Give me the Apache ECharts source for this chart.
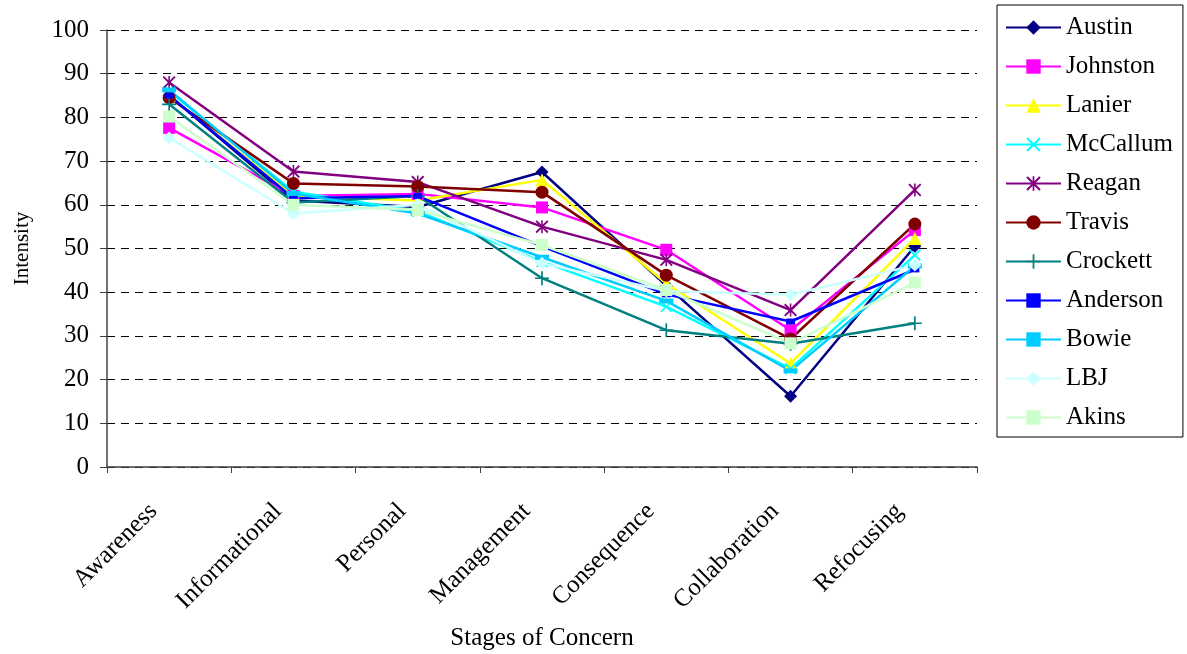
<!DOCTYPE html>
<html>
<head>
<meta charset="utf-8">
<script src="https://cdn.jsdelivr.net/npm/echarts@6/dist/echarts.min.js"></script>
<style>
  html, body { margin: 0; padding: 0; background: #fff; }
  #chart { width: 1187px; height: 654px; }
</style>
</head>
<body>
<div id="chart"></div>
<script>
// Stages of Concern: intensity by school
const stages = ['Awareness', 'Informational', 'Personal', 'Management', 'Consequence', 'Collaboration', 'Refocusing'];
const yTicks = [0, 10, 20, 30, 40, 50, 60, 70, 80, 90, 100];

const austin   = [85.0, 61.0, 59.5, 67.5, 41.5, 16.2, 50.5];
const johnston = [77.6, 62.0, 62.5, 59.4, 49.7, 31.3, 54.2];
const lanier   = [85.0, 62.0, 61.0, 65.7, 42.0, 23.7, 52.3];
const mccallum = [86.0, 63.0, 58.5, 47.0, 36.7, 22.5, 48.5];
const reagan   = [88.0, 67.6, 65.2, 55.0, 47.4, 35.9, 63.4];
const travis   = [84.5, 64.9, 64.2, 62.9, 43.9, 29.3, 55.6];
const crockett = [83.0, 60.5, 62.0, 43.2, 31.3, 28.2, 32.9];
const anderson = [85.0, 61.5, 62.0, 50.5, 39.5, 33.3, 45.2];
const bowie    = [86.3, 62.6, 58.0, 48.0, 38.0, 22.0, 46.0];
const lbj      = [75.3, 58.0, 60.0, 46.6, 40.3, 39.4, 46.2];
const akins    = [80.2, 60.0, 58.8, 50.8, 40.5, 28.3, 42.2];

// marker shapes
const SYM_X = 'path://M0,1L1,0L5,4L9,0L10,1L6,5L10,9L9,10L5,6L1,10L0,9L4,5Z';
const SYM_STAR = 'path://M0,1L1,0L5,4L9,0L10,1L6,5L10,9L9,10L5,6L1,10L0,9L4,5Z M4.4,0H5.6V10H4.4Z';
const SYM_PLUS = 'path://M4.4,0H5.6V4.4H10V5.6H5.6V10H4.4V5.6H0V4.4H4.4Z';
const SYM_SHORTDASH = 'path://M0,0H10V6.5H0Z';
const SYM_DASH = 'path://M0,0H14V5H0Z';

const seriesDefs = [
  { name: 'Austin',   data: austin,   color: '#000080', symbol: 'diamond',     size: 13 },
  { name: 'Johnston', data: johnston, color: '#FF00FF', symbol: 'rect',        size: 12 },
  { name: 'Lanier',   data: lanier,   color: '#FFFF00', symbol: 'triangle',    size: 13 },
  { name: 'McCallum', data: mccallum, color: '#00FFFF', symbol: SYM_X,         size: 12 },
  { name: 'Reagan',   data: reagan,   color: '#800080', symbol: SYM_STAR,      size: 13 },
  { name: 'Travis',   data: travis,   color: '#800000', symbol: 'circle',      size: 13 },
  { name: 'Crockett', data: crockett, color: '#008080', symbol: SYM_PLUS,      size: 14 },
  { name: 'Anderson', data: anderson, color: '#0000FF', symbol: SYM_SHORTDASH, size: 9 },
  { name: 'Bowie',    data: bowie,    color: '#00CCFF', symbol: SYM_DASH,      size: 14 },
  { name: 'LBJ',      data: lbj,      color: '#CCFFFF', symbol: 'diamond',     size: 13 },
  { name: 'Akins',    data: akins,    color: '#CCFFCC', symbol: 'rect',        size: 12 }
];

const FONT = 'Liberation Serif, Times New Roman, serif';

const chart = echarts.init(document.getElementById('chart'), null, { renderer: 'canvas' });

chart.setOption({
  backgroundColor: '#ffffff',
  animation: false,
  textStyle: { fontFamily: FONT, color: '#000' },
  grid: { left: 107, right: 210, top: 30, bottom: 187, containLabel: false, outerBoundsMode: 'none' },
  legend: {
    orient: 'vertical',
    left: 997,
    top: 5,
    padding: [10, 10, 7, 8],
    borderColor: '#000',
    borderWidth: 1,
    itemWidth: 55,
    itemHeight: 18,
    itemGap: 14,
    symbolKeepAspect: true,
    textStyle: { fontFamily: FONT, fontSize: 25, lineHeight: 25, color: '#000' },
    data: seriesDefs.map(s => s.name)
  },
  xAxis: {
    type: 'category',
    data: stages,
    boundaryGap: true,
    name: 'Stages of Concern',
    nameLocation: 'middle',
    nameGap: 159,
    nameTextStyle: { fontFamily: FONT, fontSize: 25, color: '#000' },
    axisLine: { lineStyle: { color: '#404040', width: 1.5 } },
    axisTick: { show: true, alignWithLabel: false, length: 6, lineStyle: { color: '#404040' } },
    axisLabel: { rotate: 45, margin: 25, padding: [0, 22, 0, 0], fontFamily: FONT, fontSize: 25, color: '#000', interval: 0 },
    splitLine: { show: false }
  },
  yAxis: {
    type: 'value',
    min: yTicks[0],
    max: yTicks[yTicks.length - 1],
    interval: 10,
    name: 'Intensity',
    nameLocation: 'middle',
    nameGap: 74,
    nameRotate: 90,
    nameTextStyle: { fontFamily: FONT, fontSize: 21, color: '#000' },
    axisLine: { show: true, lineStyle: { color: '#404040', width: 1.5 } },
    axisTick: { show: true, inside: false, length: 7, lineStyle: { color: '#404040' } },
    axisLabel: { margin: 18, fontFamily: FONT, fontSize: 25, color: '#000' },
    splitLine: { show: true, lineStyle: { color: '#000', type: [8, 6], width: 1 } }
  },
  series: seriesDefs.map(s => ({
    name: s.name,
    type: 'line',
    data: s.data,
    symbol: s.symbol,
    symbolSize: s.size,
    symbolKeepAspect: true,
    showAllSymbol: true,
    lineStyle: { color: s.color, width: 2.5 },
    itemStyle: { color: s.color },
    emphasis: { disabled: true }
  }))
});
</script>
</body>
</html>
